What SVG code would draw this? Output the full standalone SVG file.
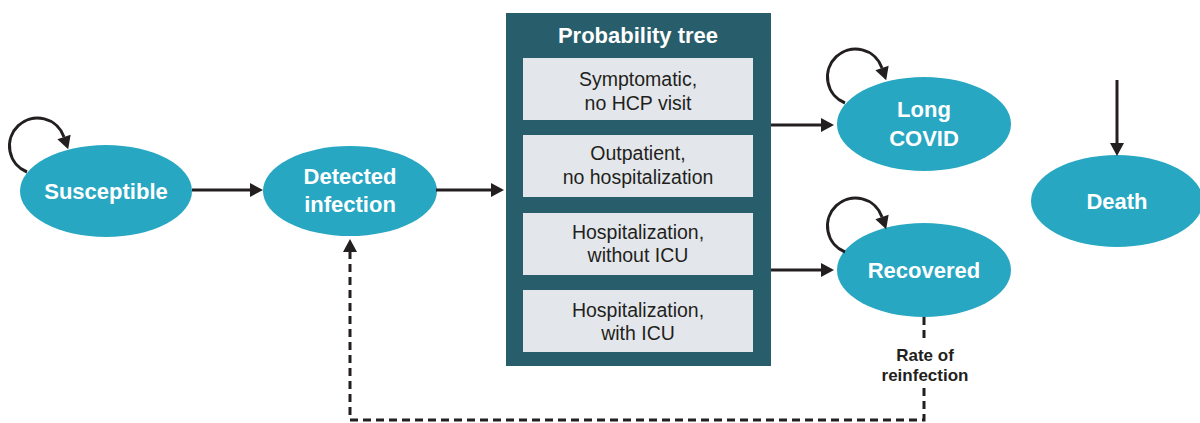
<svg xmlns="http://www.w3.org/2000/svg" width="1200" height="423" viewBox="0 0 1200 423">
<defs>
<style>
.state{fill:#28a7c2}
.st{font-family:"Liberation Sans",Arial,sans-serif;font-weight:bold;font-size:22px;fill:#ffffff;text-anchor:middle}
.box{fill:#e3e7eb}
.bt{font-family:"Liberation Sans",Arial,sans-serif;font-size:19.5px;fill:#231f20;text-anchor:middle}
.ln{fill:none;stroke:#231f20;stroke-width:3}
.dash{stroke-dasharray:8 5}
.lbl{font-family:"Liberation Sans",Arial,sans-serif;font-weight:bold;font-size:17px;fill:#231f20;text-anchor:middle}
</style>
<marker id="ah" markerUnits="userSpaceOnUse" markerWidth="13" markerHeight="14" refX="0" refY="7" orient="auto" overflow="visible">
<path d="M0,0 L13,7 L0,14 Z" fill="#231f20"/>
</marker>
</defs>
<rect width="1200" height="423" fill="#ffffff"/>

<g id="tree">
<rect x="506" y="13" width="265" height="353" fill="#285e6c"/>
<text x="638" y="43" class="st">Probability tree</text>
<rect class="box" x="523" y="58" width="230" height="62"/>
<text class="bt" x="638" y="86">Symptomatic,</text>
<text class="bt" x="638" y="110">no HCP visit</text>
<rect class="box" x="523" y="135" width="230" height="62"/>
<text class="bt" x="638" y="160">Outpatient,</text>
<text class="bt" x="638" y="184">no hospitalization</text>
<rect class="box" x="523" y="213" width="230" height="62"/>
<text class="bt" x="638" y="239">Hospitalization,</text>
<text class="bt" x="638" y="262">without ICU</text>
<rect class="box" x="523" y="290" width="230" height="62"/>
<text class="bt" x="638" y="317">Hospitalization,</text>
<text class="bt" x="638" y="340">with ICU</text>
</g>

<g id="susceptible">
<ellipse class="state" cx="106" cy="191" rx="86" ry="46"/>
<text class="st" x="106" y="199">Susceptible</text>
</g>
<g id="detected">
<ellipse class="state" cx="350" cy="191" rx="87" ry="45"/>
<text class="st" x="350" y="184">Detected</text>
<text class="st" x="350" y="212">infection</text>
</g>
<g id="longcovid">
<ellipse class="state" cx="924" cy="124" rx="87" ry="47"/>
<text class="st" x="924" y="117">Long</text>
<text class="st" x="924" y="146">COVID</text>
</g>
<g id="recovered">
<ellipse class="state" cx="924" cy="270" rx="87" ry="47"/>
<text class="st" x="924" y="278">Recovered</text>
</g>
<g id="death">
<ellipse class="state" cx="1117" cy="201" rx="86" ry="46"/>
<text class="st" x="1117" y="209">Death</text>
</g>

<g id="connectors">
<path class="ln" d="M27,172 A28,28 0 1 1 64,137" marker-end="url(#ah)"/>
<path class="ln" d="M845,103 A28,28 0 1 1 882,68" marker-end="url(#ah)"/>
<path class="ln" d="M845,252 A28,28 0 1 1 882,217" marker-end="url(#ah)"/>
<path class="ln" d="M192,190 H250" marker-end="url(#ah)"/>
<path class="ln" d="M436,190 H491" marker-end="url(#ah)"/>
<path class="ln" d="M771,125 H821" marker-end="url(#ah)"/>
<path class="ln" d="M771,270 H821" marker-end="url(#ah)"/>
<path class="ln" d="M1117,80 V143" marker-end="url(#ah)"/>
<path class="ln dash" d="M924,317 V340"/>
<path class="ln dash" d="M924,388 V420 H350 V252" marker-end="url(#ah)"/>
<text class="lbl" x="925" y="361">Rate of</text>
<text class="lbl" x="925" y="381">reinfection</text>
</g>
</svg>
